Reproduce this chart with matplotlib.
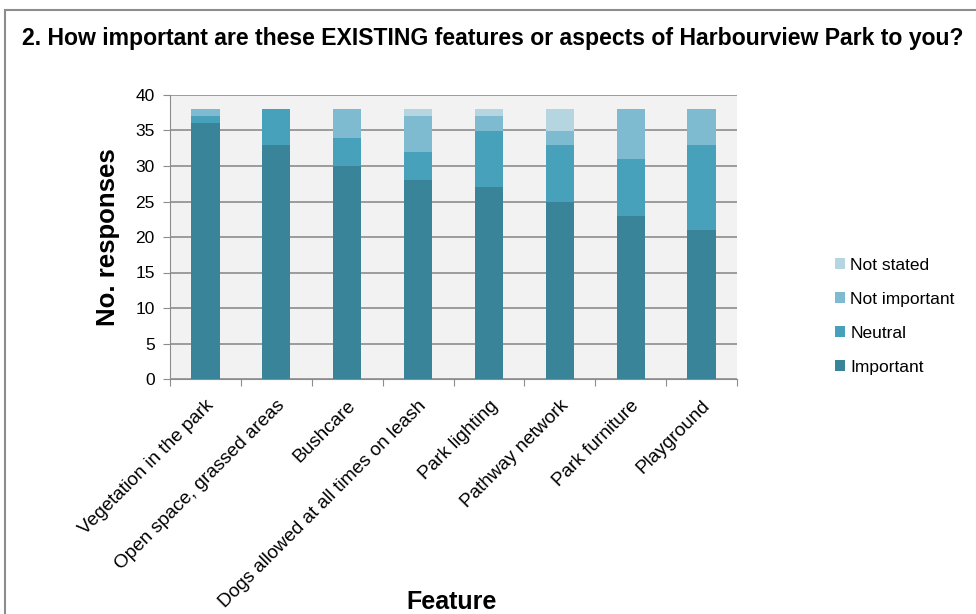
import matplotlib
matplotlib.use("Agg")
import matplotlib.pyplot as plt
from matplotlib.patches import Rectangle
import numpy as np

plt.rcParams["font.family"] = ["Liberation Sans", "DejaVu Sans"]

features = [
    "Vegetation in the park",
    "Open space, grassed areas",
    "Bushcare",
    "Dogs allowed at all times on leash",
    "Park lighting",
    "Pathway network",
    "Park furniture",
    "Playground",
]
important = [36, 33, 30, 28, 27, 25, 23, 21]
neutral = [1, 5, 4, 4, 8, 8, 8, 12]
not_important = [1, 0, 4, 5, 2, 2, 7, 5]
not_stated = [0, 0, 0, 1, 1, 3, 0, 0]

series = [
    ("Important", important, "#3a8499"),
    ("Neutral", neutral, "#47a1ba"),
    ("Not important", not_important, "#7fbbd0"),
    ("Not stated", not_stated, "#b5d5e0"),
]

fig = plt.figure(figsize=(9.76, 6.14), dpi=100)
ax = fig.add_axes([170 / 976, 1 - 379 / 614, 567 / 976, 284 / 614])

x = np.arange(len(features))
bottom = np.zeros(len(features))
handles = []
for name, vals, color in series:
    h = ax.bar(x, vals, 0.4, bottom=bottom, color=color, label=name, zorder=3)
    handles.append(h)
    bottom += np.array(vals)

ax.set_facecolor("#f2f2f2")
ax.set_xlim(-0.5, len(features) - 0.5)
ax.set_ylim(0, 40)
ax.set_yticks(range(0, 41, 5))
ax.yaxis.grid(True, color="#8c8c8c", linewidth=1.2, zorder=0)
ax.set_axisbelow(True)
for side in ["top", "right"]:
    ax.spines[side].set_visible(False)
for side in ["left", "bottom"]:
    ax.spines[side].set_color("#8c8c8c")
ax.tick_params(axis="y", colors="#8c8c8c", labelcolor="black", labelsize=12.5, length=5, pad=6)

# ticks between categories, labels at bar centres
ax.set_xticks(np.arange(-0.5, len(features) + 0.5, 1))
ax.set_xticklabels([])
ax.tick_params(axis="x", colors="#8c8c8c", length=5)
ax.set_xticks(x, minor=True)
ax.set_xticklabels(features, minor=True, rotation=45, ha="right",
                   rotation_mode="anchor", fontsize=13.7)
ax.tick_params(axis="x", which="minor", length=0, pad=13, labelcolor="black")

ax.set_ylabel("No. responses", fontsize=18.5, fontweight="bold", labelpad=11)
fig.text(452 / 976, 1 - 602 / 614, "Feature", fontsize=18, fontweight="bold",
         ha="center", va="center")

fig.text(22 / 976, 1 - 38 / 614,
         "2. How important are these EXISTING features or aspects of Harbourview Park to you?",
         fontsize=16.6, fontweight="bold", ha="left", va="center")

leg = fig.legend(handles[::-1], [s[0] for s in series][::-1],
                 loc="upper left", bbox_to_anchor=(819 / 976, 1 - 242 / 614),
                 frameon=False, fontsize=12.5, handlelength=0.6, handleheight=0.6,
                 handletextpad=0.3, labelspacing=1.1)

fig.patches.append(Rectangle((5 / 976, -0.05), 1.1, 1 - 10 / 614 + 0.05,
                             transform=fig.transFigure, fill=False,
                             edgecolor="#8c8c8c", linewidth=1.5))

fig.savefig("out.png", dpi=100)
